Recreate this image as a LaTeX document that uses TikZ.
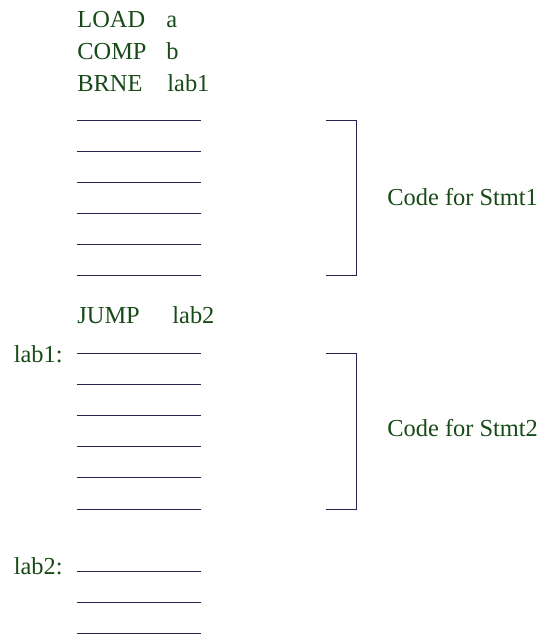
\documentclass[tikz,border=0pt]{standalone}
\usepackage{fontspec}
\setmainfont{Liberation Serif}
\usepackage{tikz}
\usetikzlibrary{positioning}

\definecolor{codegreen}{HTML}{174A17}
\definecolor{blanknavy}{HTML}{24244F}

\begin{document}
\begin{tikzpicture}[x=0.5pt, y=-0.5pt,
  every node/.style={inner sep=0pt, text=codegreen, font=\fontsize{12.2}{14}\selectfont},
  instr/.style={anchor=base west},
  blank/.style={draw=blanknavy, line width=0.5pt},
  brace/.style={draw=blanknavy, line width=0.5pt}]
  \useasboundingbox (0,0) rectangle (544,634);

  % Test and branch
  \node[instr] (load) at (77,27.5) {LOAD};
  \node[instr] (loadarg) at (166,27.5) {a};
  \node[instr] (comp) at (77,59.5) {COMP};
  \node[instr] (comparg) at (166,59.5) {b};
  \node[instr] (brne) at (77,91.5) {BRNE};
  \node[instr] (brnearg) at (167,91.5) {lab1};

  % Code for Stmt1 as blanks
  \foreach \y in {120,151,182,213.5,244.5,275.5}
    \draw[blank] (77,\y) -- (201.5,\y);

  \node[instr] (jump) at (77,323.5) {JUMP};
  \node[instr] (jumparg) at (172,323.5) {lab2};

  % Code for Stmt2 as blanks
  \node[anchor=base east] (labone) at (63,362) {lab1:};
  \foreach \y in {353.5,384.5,415.5,446.5,477.5,509}
    \draw[blank] (77,\y) -- (201.5,\y);

  % After the if
  \node[anchor=base east] (labtwo) at (63,574) {lab2:};
  \foreach \y in {571,602,633}
    \draw[blank] (77,\y) -- (201.5,\y);

  % Brackets
  \draw[brace] (326,120) -| (357,275.5) -- (326,275.5);
  \node[anchor=west] (stmtone) at (387,197) {Code for Stmt1};
  \draw[brace] (326,353.5) -| (357,509) -- (326,509);
  \node[anchor=west] (stmttwo) at (387,428) {Code for Stmt2};
\end{tikzpicture}
\end{document}
